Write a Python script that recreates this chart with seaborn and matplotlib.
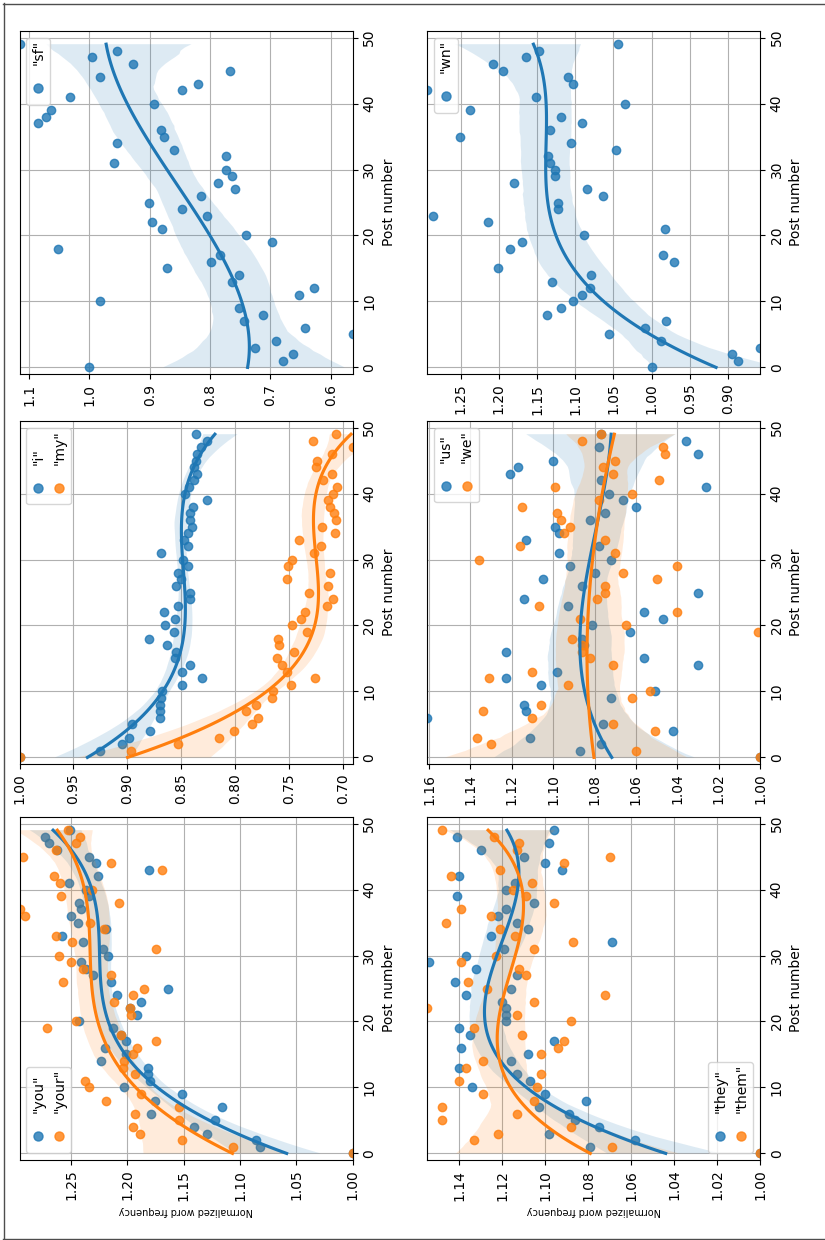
import numpy as np
import matplotlib
matplotlib.use("Agg")
import matplotlib.pyplot as plt
import seaborn as sns
from matplotlib.transforms import Affine2D
from matplotlib.lines import Line2D
from matplotlib.collections import PathCollection
from matplotlib.ticker import MaxNLocator, MultipleLocator
from matplotlib.offsetbox import AnchoredOffsetbox, HPacker, VPacker, TextArea, DrawingArea

# post index shared by every series
posts = np.arange(50)

# normalized word frequency per post (post 0 == 1.0)
sf = [1.000, 0.680, 0.662, 0.726, 0.690, 0.564, 0.643, 0.744, 0.712, 0.752,
      0.983, 0.653, 0.627, 0.763, 0.752, 0.872, 0.798, 0.783, 1.053, 0.697,
      0.740, 0.879, 0.897, 0.805, 0.847, 0.902, 0.815, 0.759, 0.787, 0.764,
      0.774, 0.959, 0.774, 0.860, 0.954, 0.877, 0.882, 1.085, 1.072, 1.064,
      0.893, 1.032, 0.847, 0.820, 0.983, 0.767, 0.928, 0.996, 0.955, 1.116]

wn = [1.000, 0.887, 0.895, 0.858, 0.987, 1.056, 1.008, 0.981, 1.137, 1.118,
      1.103, 1.091, 1.081, 1.130, 1.079, 1.201, 0.971, 0.985, 1.185, 1.169,
      1.089, 0.983, 1.214, 1.286, 1.123, 1.122, 1.064, 1.085, 1.180, 1.127,
      1.127, 1.133, 1.135, 1.047, 1.105, 1.251, 1.133, 1.091, 1.118, 1.238,
      1.035, 1.151, 1.294, 1.103, 1.109, 1.195, 1.207, 1.165, 1.147, 1.044]

i_ = [1.000, 0.925, 0.905, 0.898, 0.879, 0.896, 0.870, 0.870, 0.870, 0.869,
      0.868, 0.849, 0.831, 0.849, 0.842, 0.856, 0.855, 0.863, 0.880, 0.857,
      0.865, 0.856, 0.866, 0.853, 0.842, 0.842, 0.855, 0.850, 0.853, 0.844,
      0.848, 0.869, 0.844, 0.847, 0.844, 0.840, 0.842, 0.842, 0.839, 0.826,
      0.846, 0.843, 0.838, 0.835, 0.838, 0.836, 0.835, 0.832, 0.826, 0.836]

my = [1.000, 0.897, 0.853, 0.815, 0.801, 0.784, 0.779, 0.790, 0.781, 0.766,
      0.765, 0.748, 0.726, 0.752, 0.756, 0.761, 0.745, 0.759, 0.760, 0.733,
      0.747, 0.739, 0.735, 0.715, 0.709, 0.731, 0.714, 0.752, 0.712, 0.751,
      0.747, 0.727, 0.720, 0.741, 0.707, 0.719, 0.706, 0.708, 0.712, 0.714,
      0.709, 0.705, 0.718, 0.710, 0.725, 0.724, 0.710, 0.691, 0.728, 0.706]

us = [1.000, 1.087, 1.077, 1.111, 1.042, 1.076, 1.161, 1.113, 1.114, 1.072,
      1.051, 1.106, 1.123, 1.098, 1.030, 1.056, 1.123, 1.085, 1.086, 1.063,
      1.081, 1.047, 1.056, 1.093, 1.114, 1.030, 1.086, 1.105, 1.080, 1.092,
      1.072, 1.097, 1.078, 1.113, 1.097, 1.099, 1.082, 1.075, 1.060, 1.066,
      1.073, 1.026, 1.077, 1.121, 1.117, 1.100, 1.030, 1.078, 1.036, 1.077]

we = [1.000, 1.060, 1.130, 1.137, 1.051, 1.071, 1.110, 1.134, 1.106, 1.062,
      1.053, 1.093, 1.131, 1.110, 1.071, 1.082, 1.086, 1.086, 1.091, 1.001,
      1.065, 1.087, 1.040, 1.107, 1.079, 1.075, 1.075, 1.050, 1.066, 1.040,
      1.136, 1.070, 1.116, 1.075, 1.095, 1.092, 1.096, 1.098, 1.115, 1.078,
      1.062, 1.099, 1.049, 1.071, 1.076, 1.070, 1.046, 1.047, 1.086, 1.077]

you = [1.000, 1.082, 1.086, 1.129, 1.141, 1.122, 1.179, 1.116, 1.176, 1.152,
       1.203, 1.180, 1.182, 1.182, 1.224, 1.201, 1.220, 1.201, 1.206, 1.213,
       1.243, 1.192, 1.198, 1.188, 1.209, 1.164, 1.215, 1.231, 1.237, 1.241,
       1.217, 1.222, 1.240, 1.258, 1.219, 1.244, 1.250, 1.241, 1.243, 1.234,
       1.237, 1.252, 1.226, 1.181, 1.228, 1.234, 1.263, 1.270, 1.273, 1.251]

your = [1.000, 1.106, 1.152, 1.189, 1.195, 1.154, 1.193, 1.154, 1.219, 1.188,
        1.234, 1.238, 1.193, 1.204, 1.203, 1.195, 1.192, 1.175, 1.206, 1.272,
        1.246, 1.197, 1.198, 1.212, 1.195, 1.185, 1.257, 1.215, 1.240, 1.250,
        1.261, 1.175, 1.249, 1.264, 1.221, 1.233, 1.291, 1.296, 1.208, 1.259,
        1.232, 1.260, 1.265, 1.169, 1.215, 1.293, 1.264, 1.246, 1.242, 1.253]

they = [1.000, 1.079, 1.058, 1.098, 1.075, 1.086, 1.089, 1.103, 1.081, 1.100,
        1.134, 1.107, 1.113, 1.140, 1.116, 1.108, 1.139, 1.096, 1.135, 1.140,
        1.118, 1.118, 1.118, 1.120, 1.137, 1.116, 1.142, 1.113, 1.132, 1.154,
        1.137, 1.119, 1.069, 1.125, 1.108, 1.113, 1.122, 1.118, 1.105, 1.141,
        1.118, 1.114, 1.140, 1.092, 1.100, 1.110, 1.130, 1.098, 1.141, 1.096]

them = [1.000, 1.069, 1.133, 1.122, 1.088, 1.148, 1.113, 1.148, 1.105, 1.129,
        1.104, 1.140, 1.102, 1.137, 1.129, 1.102, 1.094, 1.091, 1.111, 1.133,
        1.088, 1.113, 1.155, 1.105, 1.072, 1.127, 1.136, 1.109, 1.112, 1.139,
        1.123, 1.105, 1.087, 1.114, 1.121, 1.146, 1.125, 1.139, 1.096, 1.109,
        1.115, 1.106, 1.144, 1.121, 1.091, 1.070, 1.113, 1.112, 1.124, 1.148]

# (row, col, series, labels, legend corner, show value label) -- figure is turned on its side
panels = [
    (0, 0, [sf], ['"sf"'], 'upper left', False),
    (0, 1, [wn], ['"wn"'], 'upper left', False),
    (1, 0, [i_, my], ['"i"', '"my"'], 'upper left', False),
    (1, 1, [us, we], ['"us"', '"we"'], 'upper left', False),
    (2, 0, [you, your], ['"you"', '"your"'], 'lower left', True),
    (2, 1, [they, them], ['"they"', '"them"'], 'lower right', True),
]

colors = ['#1f77b4', '#ff7f0e']

W, H = 825, 1240
fig = plt.figure(figsize=(W / 100, H / 100), dpi=100)

col_left = [19.5 / W, 427 / W]
row_bottom = [1 - 374 / H, 1 - 764 / H, 1 - 1160 / H]
ax_w, ax_h = 333 / W, 343 / H

# swaps x and y so the regression (value ~ post) is drawn sideways
swap = Affine2D(np.array([[0., 1., 0.], [1., 0., 0.], [0., 0., 1.]]))


def side_legend(ax, labels, loc):
    entries = []
    for lab, col in zip(labels, colors):
        txt = TextArea(lab, textprops=dict(rotation=90, fontsize=10, ha='left', va='bottom'))
        da = DrawingArea(8, 17, 0, 0)
        da.add_artist(Line2D([4], [8.5], marker='o', ms=6.5, color=col, alpha=0.8, ls='none'))
        entries.append(VPacker(children=[txt, da], align='center', pad=0, sep=6))
    box = HPacker(children=entries, align='bottom', pad=0, sep=5)
    anc = AnchoredOffsetbox(loc=loc, child=box, pad=0.35, borderpad=0.5, frameon=True)
    anc.patch.set_boxstyle('round,pad=0,rounding_size=0.2')
    anc.patch.set_edgecolor('0.8')
    anc.patch.set_facecolor('white')
    anc.patch.set_alpha(0.8)
    ax.add_artist(anc)


for row, col, series, labels, loc, show_ylab in panels:
    ax = fig.add_axes([col_left[col], row_bottom[row], ax_w, ax_h])
    for k, vals in enumerate(series):
        n_lines, n_coll = len(ax.lines), len(ax.collections)
        sns.regplot(x=posts, y=np.array(vals), ax=ax, order=3, color=colors[k], seed=k)
        for ln in ax.lines[n_lines:]:
            ln.set_transform(swap + ax.transData)
        for c in ax.collections[n_coll:]:
            if isinstance(c, PathCollection):
                c.set_offset_transform(swap + ax.transData)
            else:
                c.set_transform(swap + ax.transData)

    allv = np.concatenate([np.asarray(v) for v in series])
    ax.set_xlim(allv.max(), allv.min())
    ax.set_ylim(-1, 51)
    ax.xaxis.set_major_locator(MaxNLocator(nbins=9, steps=[1, 2, 2.5, 5, 10]))
    ax.yaxis.set_major_locator(MultipleLocator(10))
    ax.yaxis.tick_right()
    ax.yaxis.set_label_position('right')
    ax.set_ylabel('Post number', fontsize=10)
    for t in ax.get_xticklabels():
        t.set_rotation(90)
    for t in ax.get_yticklabels():
        t.set_rotation(90)
        t.set_va('center')
    if show_ylab:
        ax.set_xlabel('Normalized word frequency', fontsize=7, rotation=180)
    else:
        ax.set_xlabel('')
    ax.grid(True)
    ax.set_axisbelow(True)
    side_legend(ax, labels, loc)

# frame around the page
for xs, ys in [([3 / W, 1], [1 - 3.5 / H, 1 - 3.5 / H]),
               ([3.5 / W, 3.5 / W], [1 - 3 / H, 1.5 / H]),
               ([3 / W, 1], [1.5 / H, 1.5 / H])]:
    fig.add_artist(Line2D(xs, ys, transform=fig.transFigure, color='0.3', lw=1))

fig.savefig('out.png', dpi=100)
